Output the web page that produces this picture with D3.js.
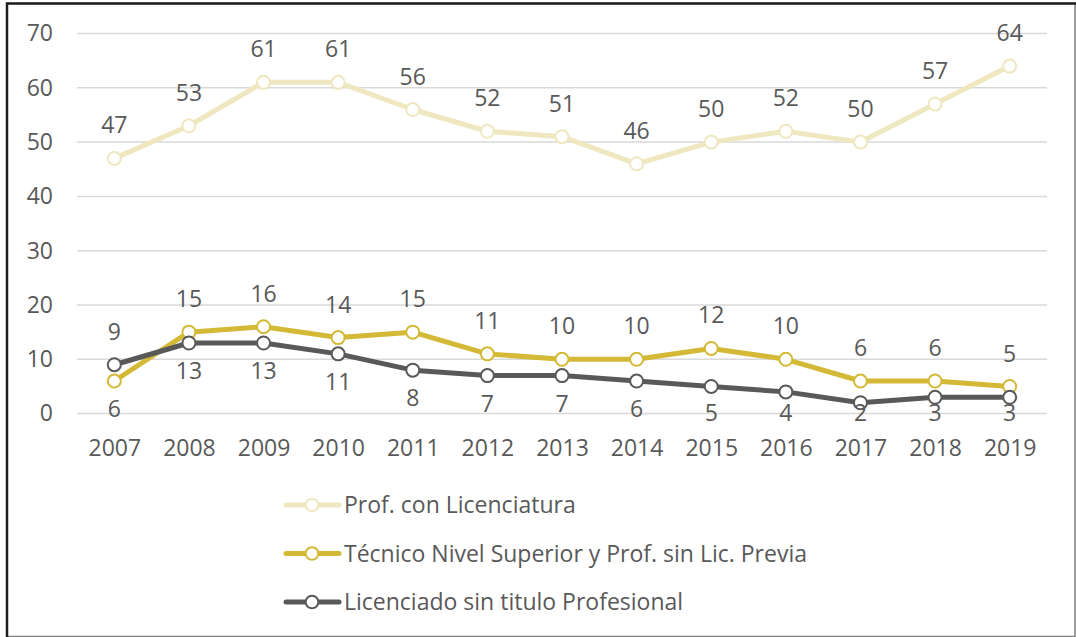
<!DOCTYPE html>
<html>
<head>
<meta charset="utf-8">
<script src="https://cdn.jsdelivr.net/npm/d3@7"></script>
<style>
  body { margin: 0; background: #fff; }
  svg text { font-family: "Open Sans", Lato, sans-serif; fill: #595959; }
</style>
</head>
<body>
<svg id="chart" width="1076" height="637"></svg>
<script>
// data
const years = ["2007","2008","2009","2010","2011","2012","2013","2014","2015","2016","2017","2018","2019"];
const profConLic = [47, 53, 61, 61, 56, 52, 51, 46, 50, 52, 50, 57, 64];
const tecnicoNivel = [6, 15, 16, 14, 15, 11, 10, 10, 12, 10, 6, 6, 5];
const licSinTitulo = [9, 13, 13, 11, 8, 7, 7, 6, 5, 4, 2, 3, 3];
const yTicks = [0, 10, 20, 30, 40, 50, 60, 70];

const series = [
  {name: "Prof. con Licenciatura", values: profConLic, color: "#EEE7BF", labelPos: years.map(() => "above")},
  {name: "Técnico Nivel Superior y Prof. sin Lic. Previa", values: tecnicoNivel, color: "#D3B936",
   labelPos: years.map((d, i) => i === 0 ? "below" : "above")},
  {name: "Licenciado sin titulo Profesional", values: licSinTitulo, color: "#595959",
   labelPos: years.map((d, i) => i === 0 ? "above" : "below")}
];

const svg = d3.select("#chart");
const fontPx = 23;
const legendPx = 23;

// frame
svg.append("rect")
  .attr("x", 7).attr("y", 3.5).attr("width", 1068).attr("height", 633)
  .attr("fill", "none").attr("stroke", "#7f7f7f").attr("stroke-width", 1.5);
svg.append("path")
  .attr("d", "M7,637 L7,3.5 L1076,3.5")
  .attr("fill", "none").attr("stroke", "#1e1e1e").attr("stroke-width", 2.5);

const x = d3.scalePoint().domain(years).range([77, 1047]).padding(0.5);
const y = d3.scaleLinear().domain([0, 70]).range([413.6, 33.5]);

// gridlines
svg.append("g").selectAll("line")
  .data(yTicks).enter().append("line")
  .attr("x1", 77).attr("x2", 1047)
  .attr("y1", d => y(d)).attr("y2", d => y(d))
  .attr("stroke", "#d9d9d9").attr("stroke-width", 1.5);

// y axis labels
const yAxis = svg.append("g")
  .attr("transform", "translate(53,0)")
  .call(d3.axisLeft(y).tickValues(yTicks).tickSize(0).tickPadding(0));
yAxis.select(".domain").remove();
yAxis.selectAll("text").attr("font-size", fontPx).attr("font-family", null).attr("fill", "#595959");

// x axis labels
const xAxis = svg.append("g")
  .attr("transform", "translate(0,440)")
  .call(d3.axisBottom(x).tickSize(0).tickPadding(0));
xAxis.select(".domain").remove();
xAxis.selectAll("text").attr("font-size", fontPx).attr("font-family", null).attr("fill", "#595959");

const line = d3.line()
  .x((d, i) => x(years[i]))
  .y(d => y(d));

series.forEach(s => {
  const g = svg.append("g");
  g.append("path")
    .attr("d", line(s.values))
    .attr("fill", "none")
    .attr("stroke", s.color)
    .attr("stroke-width", 5)
    .attr("stroke-linejoin", "round");
  g.selectAll("circle")
    .data(s.values).enter().append("circle")
    .attr("cx", (d, i) => x(years[i]))
    .attr("cy", d => y(d))
    .attr("r", 6.5)
    .attr("fill", "#fff")
    .attr("stroke", s.color)
    .attr("stroke-width", 2);
});

// data labels
series.forEach(s => {
  svg.append("g").selectAll("text")
    .data(s.values).enter().append("text")
    .attr("x", (d, i) => x(years[i]))
    .attr("y", (d, i) => {
      const py = y(d);
      if (s.labelPos[i] === "above") return py - 33;
      return Math.min(py + 28, y(0) - 1);
    })
    .attr("dy", "0.35em")
    .attr("text-anchor", "middle")
    .attr("font-size", fontPx)
    .text(d => d);
});

// legend
const legend = svg.append("g").selectAll("g")
  .data(series).enter().append("g")
  .attr("transform", (d, i) => `translate(0,${505 + i * 48.5})`);
legend.append("line")
  .attr("x1", 286).attr("x2", 339).attr("y1", 0).attr("y2", 0)
  .attr("stroke", d => d.color).attr("stroke-width", 5)
  .attr("stroke-linecap", "round");
legend.append("circle")
  .attr("cx", 312).attr("cy", 0).attr("r", 6.3)
  .attr("fill", "#fff").attr("stroke", d => d.color).attr("stroke-width", 2);
legend.append("text")
  .attr("x", 344).attr("y", 0).attr("dy", "0.35em")
  .attr("font-size", legendPx)
  .text(d => d.name);
</script>
</body>
</html>
